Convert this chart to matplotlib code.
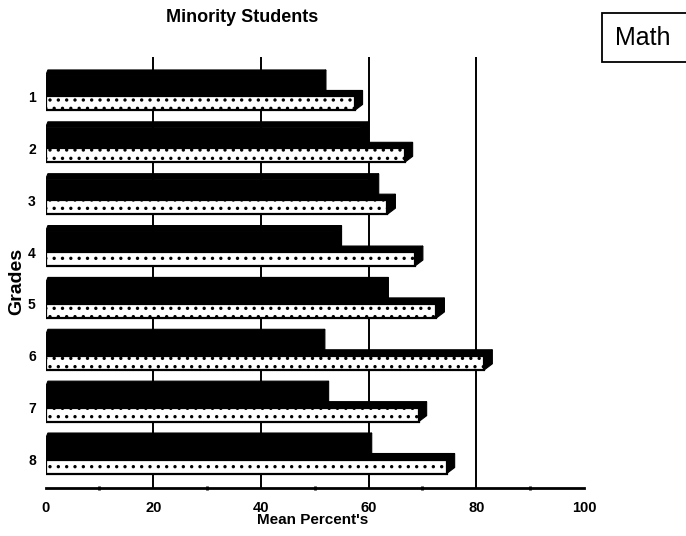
import matplotlib
matplotlib.use("Agg")
import matplotlib.pyplot as plt
from matplotlib.patches import Polygon, Rectangle

plt.rcParams['font.family'] = ['Liberation Sans', 'DejaVu Sans']
plt.rcParams['hatch.linewidth'] = 1.2
plt.rcParams['hatch.color'] = 'black'

# Mean percentages per grade (minority students, math)
grades = ["1", "2", "3", "4", "5", "6", "7", "8"]
series_dark = [50.6, 58.5, 60.4, 53.5, 62.2, 50.4, 51.1, 59.1]
series_dotted = [57.4, 66.7, 63.5, 68.6, 72.6, 81.5, 69.3, 74.5]
x_ticks = [0, 20, 40, 60, 80, 100]

W_PX, H_PX = 686, 536
fig = plt.figure(figsize=(W_PX / 100, H_PX / 100), dpi=100)
ax = fig.add_axes([45.5 / W_PX, 1 - 488 / H_PX, (584 - 45.5) / W_PX, (488 - 57) / H_PX])

ax.set_xlim(0, 100)
ax.set_ylim(8.549, 0.239)

# 3-D bar geometry (data units)
DX = 1.48      # depth to the right
DY = 0.116     # depth upward
H_DARK = 0.395
H_DOT = 0.27


def depth_faces(ax, value, y_top, y_bot, z):
    top = Polygon([(0, y_top), (value, y_top), (value + DX, y_top - DY), (DX * 0.3, y_top - DY)],
                  closed=True, facecolor='black', edgecolor='black', lw=0.8, zorder=z)
    side = Polygon([(value, y_top), (value + DX, y_top - DY), (value + DX, y_bot - DY), (value, y_bot)],
                   closed=True, facecolor='black', edgecolor='black', lw=0.8, zorder=z)
    ax.add_patch(top)
    ax.add_patch(side)


# gridlines behind the bars
ax.vlines([20, 40, 60, 80], 8.549, 0.239, colors='black', lw=1.4, zorder=0)

for i, (d, p) in enumerate(zip(series_dark, series_dotted)):
    y = i + 1
    # dark bar
    ax.barh(y - H_DARK, d, height=H_DARK, align='edge', color='black',
            edgecolor='black', lw=1.0, zorder=2)
    depth_faces(ax, d, y - H_DARK, y, 2)
    # dotted bar
    depth_faces(ax, p, y, y + H_DOT, 3)
    ax.barh(y, p, height=H_DOT, align='edge', facecolor='white',
            edgecolor='black', hatch='..', lw=1.6, zorder=4)

# axes styling
for s in ['top', 'right', 'left']:
    ax.spines[s].set_visible(False)
ax.spines['bottom'].set_linewidth(2.0)
ax.set_xticks(x_ticks)
ax.set_xticks(range(10, 100, 20), minor=True)
ax.tick_params(axis='x', which='major', length=0, pad=9, labelsize=10.5)
ax.tick_params(axis='x', which='minor', length=3, width=2, direction='inout')
ax.set_yticks(range(1, len(grades) + 1))
ax.set_yticklabels(grades)
ax.tick_params(axis='y', length=0, pad=7, labelsize=10)
for lab in ax.get_xticklabels() + ax.get_yticklabels():
    lab.set_fontweight('bold')

fig.text(242 / W_PX, 1 - 18 / H_PX, "Minority Students", ha='center', va='center',
         fontsize=13, fontweight='bold')
fig.text(313 / W_PX, 1 - 520 / H_PX, "Mean Percent's", ha='center', va='center',
         fontsize=11, fontweight='bold')
fig.text(17 / W_PX, 1 - 281 / H_PX, "Grades", ha='center', va='center',
         rotation=90, fontsize=14, fontweight='bold')

# subject box in the top-right corner, running off the right edge
fig.patches.append(Rectangle((602 / W_PX, 1 - 62 / H_PX), 90 / W_PX, 49 / H_PX,
                             transform=fig.transFigure, facecolor='white',
                             edgecolor='black', lw=1.3))
fig.text(643 / W_PX, 1 - 38 / H_PX, "Math", ha='center', va='center', fontsize=18)

fig.savefig("out.png", dpi=100)
